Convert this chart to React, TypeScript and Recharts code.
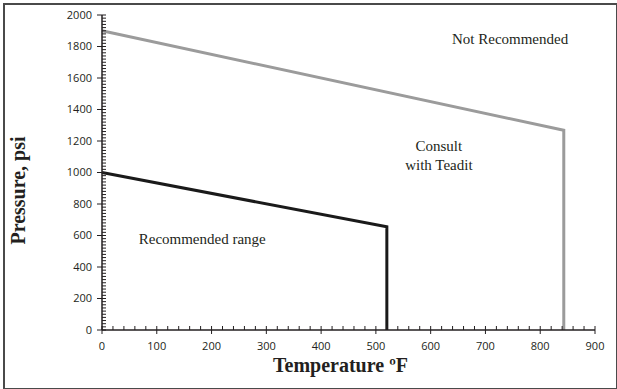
import { LineChart, Line, XAxis, YAxis, ReferenceDot } from 'recharts';

// Limites de operación: temperatura (ºF) contra presión (psi)
const recommendedTemp = [0, 520, 520];
const recommendedPressure = [1000, 655, 0];
const consultTemp = [0, 843, 843];
const consultPressure = [1900, 1268, 0];

const tempLabels = [0, 100, 200, 300, 400, 500, 600, 700, 800, 900];
const pressureLabels = [0, 200, 400, 600, 800, 1000, 1200, 1400, 1600, 1800, 2000];
const tempMinorStep = 20;
const pressureMinorStep = 20;

const recommendedData = recommendedTemp.map((t, i) => ({ t, p: recommendedPressure[i] }));
const consultData = consultTemp.map((t, i) => ({ t, p: consultPressure[i] }));

// marcas menores cada 20 unidades, sólo para los ejes
const tempTicks: number[] = [];
for (let v = 0; v <= 900; v += tempMinorStep) tempTicks.push(v);
const pressureTicks: number[] = [];
for (let v = 0; v <= 2000; v += pressureMinorStep) pressureTicks.push(v);

const INK = '#231f20';
const SANS = '"Open Sans", "Liberation Sans", sans-serif';
const SERIF = '"Liberation Serif", "Times New Roman", serif';

const XTick = (props: any) => {
  const { x, y, payload } = props;
  const major = tempLabels.includes(payload.value);
  return (
    <g>
      <line x1={x} x2={x} y1={y - 4} y2={major ? y + 4 : y} stroke={INK} strokeWidth={1} />
      {major && (
        <text x={x} y={y + 20} textAnchor="middle" fontSize={11} fill={INK} fontFamily={SANS}>
          {payload.value}
        </text>
      )}
    </g>
  );
};

const YTick = (props: any) => {
  const { x, y, payload } = props;
  const major = pressureLabels.includes(payload.value);
  return (
    <g>
      <line x1={major ? x - 5 : x} x2={x + 4} y1={y} y2={y} stroke={INK} strokeWidth={1} />
      {major && (
        <text x={x - 10} y={y} dy="0.35em" textAnchor="end" fontSize={11} fill={INK} fontFamily={SANS}>
          {payload.value}
        </text>
      )}
    </g>
  );
};

const XTitle = ({ viewBox }: any) => (
  <text
    x={viewBox.x + viewBox.width / 2 - 8}
    y={viewBox.y + 42}
    textAnchor="middle"
    fontSize={20}
    fontWeight="bold"
    fontFamily={SERIF}
    fill={INK}
  >
    Temperature ºF
  </text>
);

const YTitle = ({ viewBox }: any) => {
  const cx = 25;
  const cy = viewBox.y + viewBox.height / 2 + 18;
  return (
    <text
      x={cx}
      y={cy}
      transform={`rotate(-90, ${cx}, ${cy})`}
      textAnchor="middle"
      fontSize={20}
      fontWeight="bold"
      fontFamily={SERIF}
      fill={INK}
    >
      Pressure, psi
    </text>
  );
};

const noteStyle = { fontSize: 15, fontFamily: SERIF, fill: INK };

const App = () => {
  return (
    <div style={{ position: 'absolute', left: 0, top: 0, width: 617, height: 389, background: '#fff' }}>
      <div
        style={{
          position: 'absolute',
          left: 3,
          top: 3,
          width: 611,
          height: 383,
          border: '2px solid #4a4a4a',
        }}
      />
      <LineChart width={617} height={389} margin={{ top: 15, right: 22, bottom: 0, left: 0 }}>
        <XAxis
          dataKey="t"
          type="number"
          domain={[0, 900]}
          ticks={tempTicks}
          interval={0}
          tickSize={0}
          tickMargin={0}
          tick={<XTick />}
          height={59}
          stroke={INK}
          strokeWidth={1.5}
          label={<XTitle />}
        />
        <XAxis xAxisId="top" orientation="top" type="number" domain={[0, 900]} tick={false} tickLine={false} height={0} stroke="#555" />
        <YAxis
          type="number"
          domain={[0, 2000]}
          ticks={pressureTicks}
          interval={0}
          tickSize={0}
          tickMargin={0}
          tick={<YTick />}
          width={102}
          stroke={INK}
          strokeWidth={1.5}
          label={<YTitle />}
        />
        <YAxis yAxisId="right" orientation="right" type="number" domain={[0, 2000]} tick={false} tickLine={false} width={0} stroke="#555" />
        <Line
          data={consultData}
          dataKey="p"
          type="linear"
          stroke="#9b9b9b"
          strokeWidth={3}
          dot={false}
          isAnimationActive={false}
        />
        <Line
          data={recommendedData}
          dataKey="p"
          type="linear"
          stroke="#1a1a1a"
          strokeWidth={3}
          dot={false}
          isAnimationActive={false}
        />
        <ReferenceDot x={745} y={1851} r={0} fill="none" stroke="none" label={{ value: 'Not Recommended', position: 'center', ...noteStyle }} />
        <ReferenceDot x={615} y={1168} r={0} fill="none" stroke="none" label={{ value: 'Consult', position: 'center', ...noteStyle }} />
        <ReferenceDot x={615} y={1048} r={0} fill="none" stroke="none" label={{ value: 'with Teadit', position: 'center', ...noteStyle }} />
        <ReferenceDot x={183} y={578} r={0} fill="none" stroke="none" label={{ value: 'Recommended range', position: 'center', ...noteStyle }} />
      </LineChart>
    </div>
  );
};

export default App;
